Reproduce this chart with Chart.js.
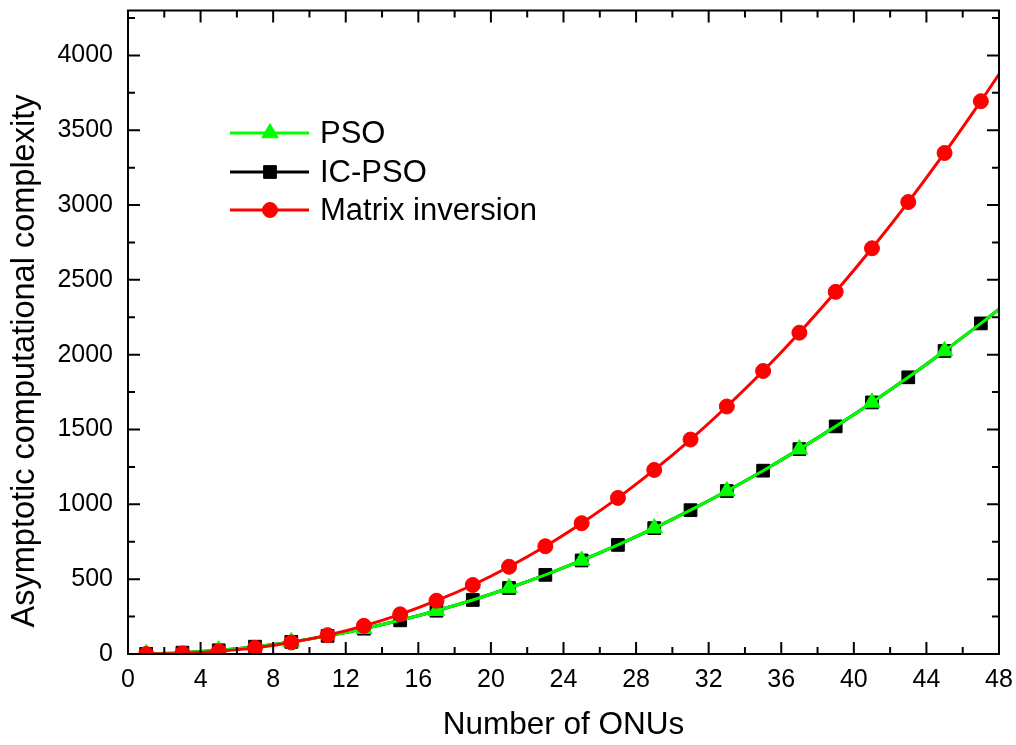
<!DOCTYPE html>
<html>
<head>
<meta charset="utf-8">
<script src="https://cdn.jsdelivr.net/npm/chart.js@4.4.0/dist/chart.umd.min.js"></script>
<style>html,body{margin:0;padding:0;background:#fff;}</style>
</head>
<body>
<canvas id="c" width="1016" height="745"></canvas>
<script>
// ---- data ----
const onus = [1,3,5,7,9,11,13,15,17,19,21,23,25,27,29,31,33,35,37,39,41,43,45,47,48];
const psoValues    = [1,9,25,49,81,121,169,225,289,361,441,529,625,729,841,961,1089,1225,1369,1521,1681,1849,2025,2209,2304];
const icpsoValues  = [1,9,25,49,81,121,169,225,289,361,441,529,625,729,841,961,1089,1225,1369,1521,1681,1849,2025,2209,2304];
const matrixValues = [0,4,18,41,77,126,188,265,356,461,583,720,874,1043,1230,1433,1654,1891,2147,2420,2711,3020,3348,3694,3874];
const seriesNames = ['PSO', 'IC-PSO', 'Matrix inversion'];
const xTickLabels = [0,4,8,12,16,20,24,28,32,36,40,44,48];
const yTickLabels = [0,500,1000,1500,2000,2500,3000,3500,4000];
const xMinorTicks = [2,6,10,14,18,22,26,30,34,38,42,46];
const yMinorTicks = [250,750,1250,1750,2250,2750,3250,3750,4250];
const xTitle = 'Number of ONUs';
const yTitle = 'Asymptotic computational complexity';

const FONT = "'Liberation Sans', Arial, Helvetica, sans-serif";
const pts = vals => onus.map((x, i) => ({x: x, y: vals[i]}));

const psoDs = {
  label: seriesNames[0], data: pts(psoValues), order: 2,
  borderColor: '#00ff00', backgroundColor: '#00ff00', borderWidth: 3,
  pointStyle: 'triangle', pointBackgroundColor: '#00ff00', pointBorderColor: '#00ff00', pointBorderWidth: 1,
  pointRadius: c => ((onus[c.dataIndex] - 1) % 4 === 0 ? 9.5 : 0),
  cubicInterpolationMode: 'monotone', clip: 1
};
const icpsoDs = {
  label: seriesNames[1], data: pts(icpsoValues), order: 3,
  borderColor: '#000000', backgroundColor: '#000000', borderWidth: 3,
  pointStyle: 'rect', pointBackgroundColor: '#000000', pointBorderColor: '#000000', pointBorderWidth: 1,
  pointRadius: c => (onus[c.dataIndex] % 2 === 1 ? 9 : 0),
  cubicInterpolationMode: 'monotone', clip: 1
};
const matrixDs = {
  label: seriesNames[2], data: pts(matrixValues), order: 1,
  borderColor: '#ff0000', backgroundColor: '#ff0000', borderWidth: 3,
  pointStyle: 'circle', pointBackgroundColor: '#ff0000', pointBorderColor: '#ff0000', pointBorderWidth: 1,
  pointRadius: c => (onus[c.dataIndex] % 2 === 1 ? 7.5 : 0),
  cubicInterpolationMode: 'monotone', clip: 1
};

const framePlugin = {
  id: 'frame',
  afterDraw(chart) {
    const {ctx, chartArea: a, scales: {x, y}} = chart;
    ctx.save();
    ctx.strokeStyle = '#000';
    ctx.lineWidth = 2;
    ctx.strokeRect(a.left, a.top, a.right - a.left, a.bottom - a.top);
    const major = 12, minor = 7;
    ctx.beginPath();
    const xt = (v, len) => { const p = x.getPixelForValue(v);
      ctx.moveTo(p, a.bottom); ctx.lineTo(p, a.bottom - len);
      ctx.moveTo(p, a.top); ctx.lineTo(p, a.top + len); };
    const yt = (v, len) => { const p = y.getPixelForValue(v);
      ctx.moveTo(a.left, p); ctx.lineTo(a.left + len, p);
      ctx.moveTo(a.right, p); ctx.lineTo(a.right - len, p); };
    xTickLabels.forEach(v => xt(v, major));
    xMinorTicks.forEach(v => xt(v, minor));
    yTickLabels.forEach(v => yt(v, major));
    yMinorTicks.forEach(v => yt(v, minor));
    ctx.stroke();

    // y axis title
    ctx.save();
    ctx.fillStyle = '#000';
    ctx.font = '32.5px ' + FONT;
    ctx.translate(34, 361);
    ctx.rotate(-Math.PI / 2);
    ctx.textAlign = 'center';
    ctx.textBaseline = 'alphabetic';
    ctx.fillText(yTitle, 0, 0);
    ctx.restore();

    // legend
    const rows = [psoDs, icpsoDs, matrixDs];
    const rowY = [133, 172, 210];
    rows.forEach((ds, i) => {
      const yy = rowY[i];
      ctx.strokeStyle = ds.borderColor;
      ctx.lineWidth = 3;
      ctx.beginPath(); ctx.moveTo(230, yy); ctx.lineTo(309, yy); ctx.stroke();
      ctx.fillStyle = ds.pointBackgroundColor;
      ctx.strokeStyle = ds.pointBorderColor;
      ctx.lineWidth = 1;
      const r = ds.pointStyle === 'triangle' ? 9.5 : (ds.pointStyle === 'rect' ? 9 : 7.5);
      Chart.helpers.drawPoint(ctx, {pointStyle: ds.pointStyle, radius: r, rotation: 0, borderWidth: 1}, 270, yy);
      ctx.fillStyle = '#000';
      ctx.font = '31px ' + FONT;
      ctx.textAlign = 'left';
      ctx.textBaseline = 'middle';
      ctx.fillText(ds.label, 320, yy + 1);
    });
    ctx.restore();
  }
};

new Chart(document.getElementById('c'), {
  type: 'line',
  data: { datasets: [psoDs, icpsoDs, matrixDs] },
  options: {
    responsive: false,
    animation: false,
    devicePixelRatio: 1,
    layout: { padding: { left: 0, right: 17, top: 9, bottom: 0 } },
    plugins: { legend: { display: false }, tooltip: { enabled: false } },
    scales: {
      x: {
        type: 'linear', min: 0, max: 48,
        grid: { display: false, drawTicks: false },
        border: { display: false },
        ticks: { color: '#000', font: { family: FONT, size: 25 }, padding: 11, maxRotation: 0, autoSkip: false,
                 callback: v => String(v) },
        afterBuildTicks: s => { s.ticks = xTickLabels.map(v => ({value: v})); },
        afterFit: s => { s.height = 91; s.paddingLeft = 0; s.paddingRight = 0; },
        title: { display: true, text: xTitle, color: '#000', font: { family: FONT, size: 31.5 }, padding: { top: 0, bottom: 1 } }
      },
      y: {
        type: 'linear', min: 0, max: 4300,
        grid: { display: false, drawTicks: false },
        border: { display: false },
        ticks: { color: '#000', font: { family: FONT, size: 25 }, padding: 15, callback: v => String(v) },
        afterBuildTicks: s => { s.ticks = yTickLabels.map(v => ({value: v})); },
        afterFit: s => { s.width = 128; s.paddingTop = 0; s.paddingBottom = 0; }
      }
    }
  },
  plugins: [framePlugin]
});
</script>
</body>
</html>
